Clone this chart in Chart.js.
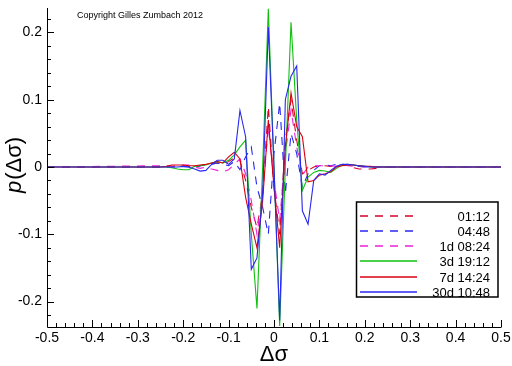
<!DOCTYPE html>
<html lang="en">
<head>
<meta charset="UTF-8">
<title>p(Δσ)</title>
<script src="https://cdn.jsdelivr.net/npm/chart.js@4.4.1/dist/chart.umd.min.js"></script>
<style>
  html, body { margin: 0; padding: 0; background: #fff; }
  #wrap { width: 512px; height: 366px; }
</style>
</head>
<body>
<div id="wrap"><canvas id="chart" width="512" height="366"></canvas></div>
<script>
// bin centres of Δσ (flat zero beyond +-0.25)
const xs = [-0.5,
  -0.25, -0.2375, -0.225, -0.2125, -0.2, -0.1875, -0.175, -0.1625, -0.15, -0.1375,
  -0.125, -0.1125, -0.1, -0.0875, -0.075, -0.0625, -0.05, -0.0375, -0.025, -0.0125,
  0, 0.0125, 0.025, 0.0375, 0.05, 0.0625, 0.075, 0.0875, 0.1, 0.1125,
  0.125, 0.1375, 0.15, 0.1625, 0.175, 0.1875, 0.2, 0.2125, 0.225, 0.2375,
  0.25, 0.5];

const seriesLabels = ['01:12', '04:48', '1d 08:24', '3d 19:12', '7d 14:24', '30d 10:48'];

const p0112 = [0,
  0, 0, 0.001, 0.002, 0.002, 0.001, 0, 0.002, 0.004, 0.005,
  0.006, 0.004, 0.008, 0.014, 0.01, -0.02, -0.06, -0.09, -0.04, 0.09,
  -0.03, -0.1, 0.04, 0.1, 0.04, -0.01, -0.005, 0, 0.002, 0.002,
  0.001, 0.002, 0.003, 0.003, -0.001, -0.003, -0.003, -0.003, -0.002, 0,
  0, 0];
const p0448 = [0,
  0, 0, 0, 0.001, 0.001, 0, -0.001, 0.002, 0.003, 0.004,
  0.006, 0.004, 0.002, 0.008, -0.004, 0.015, 0.03, -0.03, -0.06, -0.1,
  0.02, 0.095, -0.04, 0.05, 0.02, -0.03, -0.01, -0.005, 0.002, 0.003,
  0.002, 0.004, 0.004, 0.003, 0.002, 0.001, 0, 0, 0, 0,
  0, 0];
const p1d0824 = [0,
  0.002, 0.002, 0, 0, 0.003, 0.003, 0, -0.002, 0, -0.003,
  -0.005, -0.007, -0.004, 0.004, 0.012, -0.01, -0.05, -0.1, -0.04, 0.06,
  -0.02, -0.08, 0.02, 0.085, 0.03, -0.012, 0, 0.002, 0.002, 0.002,
  0.002, 0.001, 0.003, 0.002, 0.001, 0.001, 0, 0, 0, 0,
  0, 0];
const p3d1912 = [0,
  0, 0, -0.001, -0.003, -0.004, -0.004, 0.001, 0.002, 0.003, 0.006,
  0.008, 0.006, 0.01, 0.018, 0.03, 0.04, -0.1, -0.21, 0, 0.235,
  0, -0.236, 0, 0.215, 0.07, -0.035, -0.015, -0.008, -0.005, -0.006,
  -0.008, -0.002, 0.003, 0.004, 0.003, 0.002, 0.001, 0, 0, 0,
  0, 0];
const p7d1424 = [0,
  0, 0.001, 0.003, 0.003, 0.003, 0.002, 0.002, 0.003, 0.004, 0.006,
  0.008, 0.006, 0.015, 0.022, 0.012, -0.045, -0.085, -0.12, -0.05, 0.07,
  -0.03, -0.12, 0.03, 0.11, 0.06, 0.045, -0.022, -0.02, -0.012, -0.01,
  -0.007, 0, 0.002, 0.003, 0.003, 0.002, 0.001, 0.001, 0, 0,
  0, 0];
const p30d1048 = [0,
  0, 0, 0, 0, 0.001, 0, -0.003, -0.006, -0.005, 0.004,
  0.01, 0.01, 0.004, 0.012, 0.084, 0.045, -0.152, -0.135, -0.04, 0.208,
  0, -0.228, 0.1, 0.135, 0.15, -0.065, -0.085, -0.02, -0.01, -0.012,
  -0.005, 0.001, 0.004, 0.004, 0.003, 0.002, 0.001, 0, 0, 0,
  0, 0];

const xTicks = [-0.5, -0.4, -0.3, -0.2, -0.1, 0, 0.1, 0.2, 0.3, 0.4, 0.5];
const yTicks = [-0.2, -0.1, 0, 0.1, 0.2];

const colors = ['#d8002c', '#2828f0', '#f020d8', '#10c010', '#d80010', '#2828f0'];
const dashed = [true, true, true, false, false, false];
const allSeries = [p0112, p0448, p1d0824, p3d1912, p7d1424, p30d1048];

const FONT = '"Liberation Sans", Arial, sans-serif';
Chart.defaults.font.family = FONT;

const datasets = allSeries.map((s, i) => ({
  label: seriesLabels[i],
  data: xs.map((x, k) => ({ x: x, y: s[k] })),
  borderColor: colors[i],
  borderWidth: 1.1,
  borderDash: dashed[i] ? [8, 7] : [],
  pointRadius: 0,
  tension: 0,
  fill: false,
  order: allSeries.length - i   // last series on top
}));

const decor = {
  id: 'decor',
  afterDraw(chart) {
    const { ctx, chartArea: a, scales: { x, y } } = chart;
    ctx.save();
    ctx.strokeStyle = '#000';
    ctx.lineWidth = 1;
    ctx.setLineDash([]);
    ctx.beginPath();
    ctx.moveTo(a.left + 0.5, a.top);
    ctx.lineTo(a.left + 0.5, a.bottom + 0.5);
    ctx.lineTo(a.right + 0.5, a.bottom + 0.5);
    // inward ticks, minor every 0.02
    for (let k = -25; k <= 25; k++) {
      const px = Math.round(x.getPixelForValue(k * 0.02)) + 0.5;
      const len = k % 5 === 0 ? 7 : 4;
      ctx.moveTo(px, a.bottom);
      ctx.lineTo(px, a.bottom - len);
    }
    for (let k = -11; k <= 11; k++) {
      const v = k * 0.02;
      if (v < y.min || v > y.max) continue;
      const py = Math.round(y.getPixelForValue(v)) + 0.5;
      const len = k % 5 === 0 ? 7 : 4;
      ctx.moveTo(a.left, py);
      ctx.lineTo(a.left + len, py);
    }
    ctx.stroke();

    ctx.fillStyle = '#000';
    // x title
    ctx.font = '22px ' + FONT;
    ctx.textAlign = 'center';
    ctx.textBaseline = 'middle';
    ctx.fillText('Δσ', (a.left + a.right) / 2, 355);

    // y title, rotated
    ctx.save();
    ctx.translate(15, (a.top + a.bottom) / 2 - 2);
    ctx.rotate(-Math.PI / 2);
    ctx.font = 'italic 22px ' + FONT;
    const wp = ctx.measureText('p').width;
    ctx.font = '22px ' + FONT;
    const wr = ctx.measureText('(Δσ)').width;
    const x0 = -(wp + wr) / 2;
    ctx.textAlign = 'left';
    ctx.font = 'italic 22px ' + FONT;
    ctx.fillText('p', x0, 0);
    ctx.font = '22px ' + FONT;
    ctx.fillText('(Δσ)', x0 + wp + 1, 0);
    ctx.restore();

    // copyright
    ctx.font = '9px ' + FONT;
    ctx.textAlign = 'left';
    ctx.fillText('Copyright Gilles Zumbach 2012', 77, 16);

    // legend box
    ctx.fillStyle = '#fff';
    ctx.fillRect(357, 202, 141, 95);
    ctx.strokeStyle = '#000';
    ctx.lineWidth = 1.5;
    ctx.strokeRect(356.5, 202, 141.5, 95);
    ctx.font = '13px ' + FONT;
    ctx.textAlign = 'right';
    seriesLabels.forEach((lab, i) => {
      const ly = Math.round(215.5 + i * 15.3);
      ctx.strokeStyle = colors[i];
      ctx.lineWidth = 1.3;
      ctx.setLineDash(dashed[i] ? [8, 7] : []);
      ctx.beginPath();
      ctx.moveTo(360, ly);
      ctx.lineTo(417, ly);
      ctx.stroke();
      ctx.setLineDash([]);
      ctx.fillStyle = '#000';
      ctx.fillText(lab, 490, ly + 1);
    });
    ctx.restore();
  }
};

new Chart(document.getElementById('chart'), {
  type: 'line',
  data: { datasets: datasets },
  options: {
    responsive: false,
    animation: false,
    devicePixelRatio: 1,
    layout: { padding: { left: 0, top: 8, right: 11, bottom: 0 } },
    plugins: { legend: { display: false }, tooltip: { enabled: false } },
    scales: {
      x: {
        type: 'linear',
        min: -0.5,
        max: 0.5,
        afterBuildTicks: s => { s.ticks = xTicks.map(v => ({ value: v })); },
        afterFit: s => { s.height = 39; s.paddingLeft = 0; s.paddingRight = 0; },
        grid: { display: false, drawTicks: false },
        border: { display: false },
        ticks: {
          autoSkip: false,
          maxRotation: 0,
          padding: 3,
          color: '#000',
          font: { size: 14 },
          callback: v => String(Math.round(v * 10) / 10)
        }
      },
      y: {
        min: -0.2377,
        max: 0.2363,
        afterBuildTicks: s => { s.ticks = yTicks.map(v => ({ value: v })); },
        afterFit: s => { s.width = 47; s.paddingTop = 0; s.paddingBottom = 0; },
        grid: { display: false, drawTicks: false },
        border: { display: false },
        ticks: {
          padding: 5,
          color: '#000',
          font: { size: 14 },
          callback: v => String(Math.round(v * 10) / 10)
        }
      }
    }
  },
  plugins: [decor]
});
</script>
</body>
</html>
